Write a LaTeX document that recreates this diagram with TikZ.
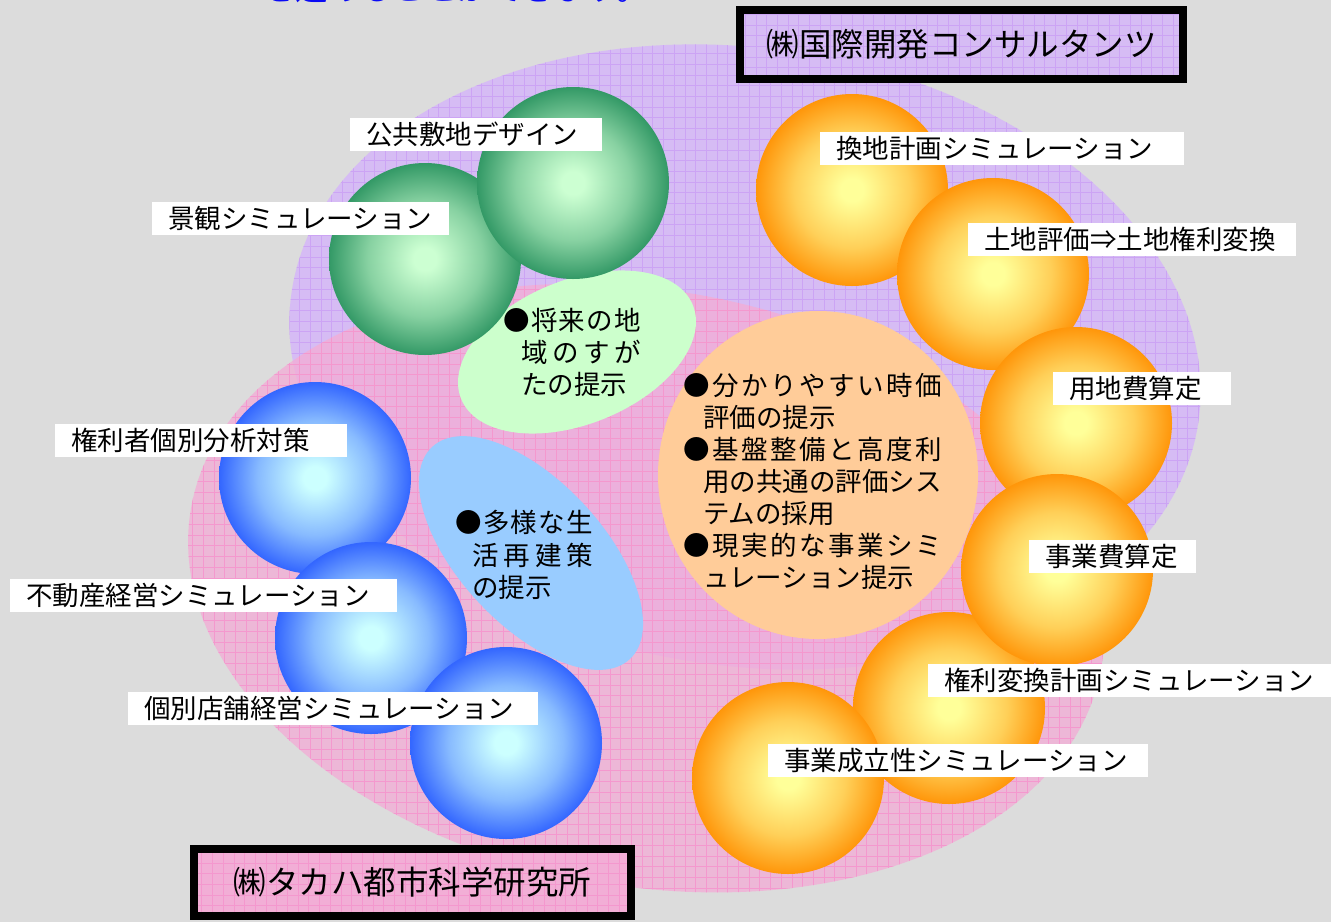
\documentclass[tikz,border=0pt]{standalone}
\usepackage{tikz}
\usetikzlibrary{calc}
\usetikzlibrary{math}
\usepackage{fontspec}
\newfontfamily\jpfont{Noto Sans CJK JP}

\definecolor{bggray}{RGB}{220,220,220}
\definecolor{lilac}{RGB}{214,188,244}
\definecolor{lilacgrid}{RGB}{204,164,244}
\definecolor{rosy}{RGB}{242,174,214}
\definecolor{rosygrid}{RGB}{244,152,206}
\definecolor{leaf}{RGB}{204,255,204}
\definecolor{sky}{RGB}{153,204,255}
\definecolor{peach}{RGB}{255,204,153}
\definecolor{grnhi}{RGB}{204,255,210}
\definecolor{grnlo}{RGB}{51,153,102}
\definecolor{bluhi}{RGB}{204,255,255}
\definecolor{blulo}{RGB}{51,102,255}
\definecolor{orahi}{RGB}{255,255,153}
\definecolor{oralo}{RGB}{255,150,10}
\definecolor{leadblue}{RGB}{10,10,245}

\pgfdeclareradialshading{ballgreen}{\pgfpoint{0bp}{0bp}}{color(0bp)=(grnhi); color(3bp)=(grnhi); color(15bp)=(grnlo!45!grnhi); color(25bp)=(grnlo); color(50bp)=(grnlo)}
\pgfdeclareradialshading{ballblue}{\pgfpoint{0bp}{0bp}}{color(0bp)=(bluhi); color(3bp)=(bluhi); color(15bp)=(blulo!45!bluhi); color(25bp)=(blulo); color(50bp)=(blulo)}
\pgfdeclareradialshading{ballorange}{\pgfpoint{0bp}{0bp}}{color(0bp)=(orahi); color(3bp)=(orahi); color(15bp)=(oralo!45!orahi); color(25bp)=(oralo); color(50bp)=(oralo)}

\newcommand{\spreadtxt}[2]{{\spaceskip=0pt plus 1fil\makebox[#1][s]{#2}}}

\tikzset{
  lbl/.style={fill=white, anchor=west, inner xsep=16pt, inner ysep=0pt, minimum height=33pt, align=left,
    font=\jpfont\fontsize{26.5}{30}\selectfont, text height=23.3pt, text depth=3.2pt},
  txt/.style={anchor=west, inner sep=0pt,
    font=\jpfont\fontsize{26.5}{30}\selectfont, text height=23.3pt, text depth=3.2pt},
  firm/.style={draw=black, line width=8pt, inner sep=0pt, fill=#1,
    font=\jpfont\fontsize{32.5}{36}\selectfont, text height=28.6pt, text depth=3.9pt,
    path picture={\draw[line width=0.5pt, #1grid, step=10.7pt] (path picture bounding box.south west) grid (path picture bounding box.north east);}}
}

\begin{document}
\begin{tikzpicture}[x=1pt,y=-1pt]
  \tikzmath{\rad = 96; \cell = 10.7;}
  \useasboundingbox (0,0) rectangle (1331,922);
  \clip (0,0) rectangle (1331,922);
  \fill[bggray] (0,0) rectangle (1331,922);

  \node[font=\jpfont\fontsize{32.5}{36}\selectfont, text=leadblue, text height=28.6pt, text depth=3.9pt, inner sep=0pt] (lead) at (456,-12) {を進めることができます。};

  \coordinate (P) at (745,357);
  \coordinate (Q) at (646,588);
  \begin{scope}
    \clip[rotate around={-8:(P)}] (P) ellipse [x radius=458pt, y radius=309pt];
    \fill[lilac] (0,0) rectangle (1331,922);
    \draw[lilacgrid, line width=0.5pt, step=\cell pt] (0,0) grid (1331,922);
  \end{scope}
  \begin{scope}
    \clip[rotate around={-10:(Q)}] (Q) ellipse [x radius=462pt, y radius=298pt];
    \fill[rosy, fill opacity=0.8] (0,0) rectangle (1331,922);
    \draw[rosygrid, line width=0.5pt, step=\cell pt] (0,0) grid (1331,922);
  \end{scope}

  \coordinate (V) at (577,352);
  \coordinate (L) at (531,553);
  \coordinate (E) at (818,475);
  \fill[leaf, rotate around={22:(V)}] (V) ellipse [x radius=125pt, y radius=72pt];
  \fill[sky, rotate around={-47:(L)}] (L) ellipse [x radius=145pt, y radius=72pt];
  \fill[peach] (E) ellipse [x radius=160pt, y radius=164pt];

  \foreach \p/\x/\y/\s in {G1/425/259/ballgreen, G2/573/183/ballgreen,
      B1/315/478/ballblue, B2/371/638/ballblue, B3/506/743/ballblue,
      O1/852/190/ballorange, O2/993/274/ballorange, O3/1076/423/ballorange,
      O5/949/708/ballorange, O4/1057/570/ballorange, O6/788/778/ballorange} {
    \coordinate (\p) at (\x,\y);
    \shade[shading=\s] (\p) circle[radius=\rad pt];
  }

  \foreach \x/\y/\t [count=\i] in {
      503/320/{\spreadtxt{138pt}{● 将 来 の 地}},
      521/352/{\spreadtxt{120pt}{域 の す が}},
      521/384/{たの提示}}
    \node[txt] (vision\i) at (\x,\y) {\t};
  \foreach \x/\y/\t [count=\i] in {
      455/522/{\spreadtxt{138pt}{● 多 様 な 生}},
      472/555/{\spreadtxt{121pt}{活 再 建 策}},
      472/587/{の提示}}
    \node[txt] (life\i) at (\x,\y) {\t};
  \foreach \x/\y/\t [count=\i] in {
      683/385/{\spreadtxt{259pt}{● 分 か り や す い 時 価}},
      703/417/{評価の提示},
      683/449/{\spreadtxt{259pt}{● 基 盤 整 備 と 高 度 利}},
      703/481/{用の共通の評価シス},
      703/513/{テムの採用},
      683/545/{\spreadtxt{259pt}{● 現 実 的 な 事 業 シ ミ}},
      703/577/{ュレーション提示}}
    \node[txt] (value\i) at (\x,\y) {\t};

  \foreach \n/\x/\y/\w/\t in {
      koukyou/350/134/220pt/公共敷地デザイン,
      keikan/152/218/265pt/景観シミュレーション,
      kanchi/820/148/332pt/換地計画シミュレーション,
      tochi/968/239/296pt/土地評価⇒土地権利変換,
      youchi/1053/388/146pt/用地費算定,
      jigyouhi/1029/556/135pt/事業費算定,
      kenri/928/680/371pt/権利変換計画シミュレーション,
      seiritsu/768/760/348pt/事業成立性シミュレーション,
      kenrisha/55/440/260pt/権利者個別分析対策,
      fudousan/10/595/355pt/不動産経営シミュレーション,
      tenpo/128/708/378pt/個別店舗経営シミュレーション}
    \node[lbl, text width=\w] (\n) at (\x,\y) {\t};

  \node[firm=lilac, minimum width=443pt, minimum height=69pt] (kokusai) at (961.5,44.5) {㈱国際開発コンサルタンツ};
  \draw[line width=1.3pt] ($(kokusai.north west)+(6,6)$) rectangle ($(kokusai.south east)+(-6,-6)$);
  \node[firm=rosy, minimum width=437pt, minimum height=67pt] (takaha) at (412.5,882.5) {㈱タカハ都市科学研究所};
  \draw[line width=1.3pt] ($(takaha.north west)+(6,6)$) rectangle ($(takaha.south east)+(-6,-6)$);
\end{tikzpicture}
\end{document}
